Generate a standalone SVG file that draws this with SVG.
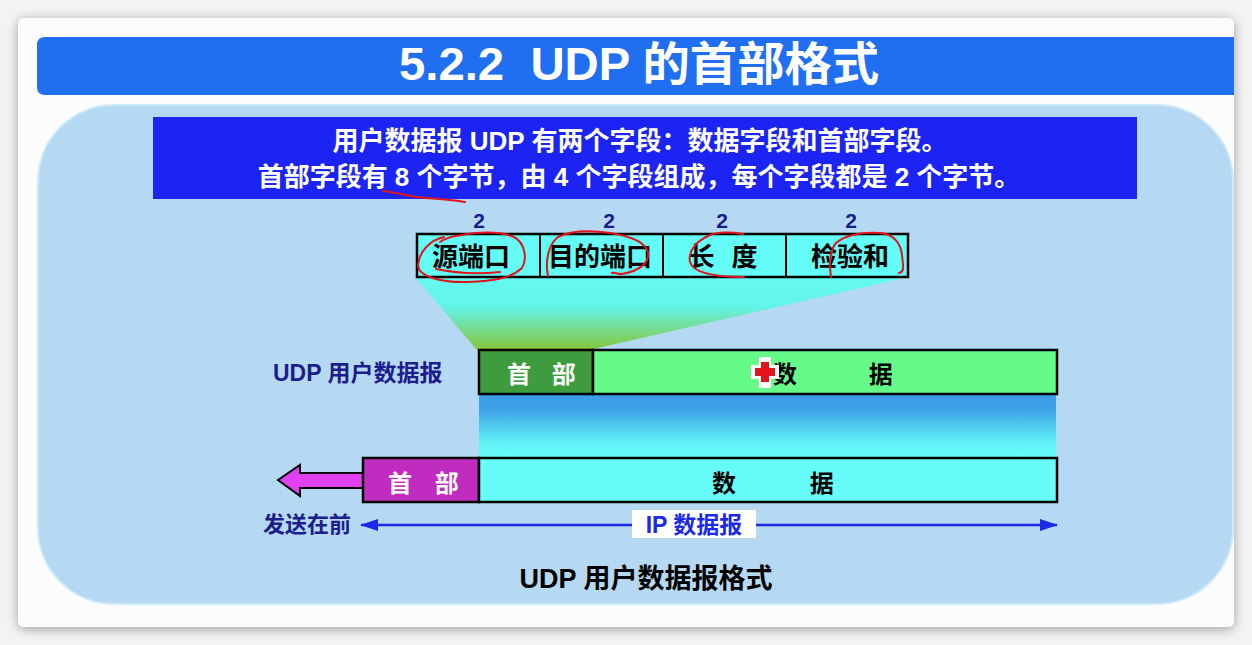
<svg xmlns="http://www.w3.org/2000/svg" width="1252" height="645" viewBox="0 0 1252 645">
  <style>
    .cjk { font-family: "Liberation Sans", "Noto Sans CJK SC", sans-serif; font-weight: bold; }
    .box { stroke: #000; stroke-width: 2.5; }
    .navy { fill: #1c1c8c; }
    .ink { stroke: #e0141a; stroke-width: 2; fill: none; stroke-linecap: round; stroke-linejoin: round; }
  </style>
  <defs>
    <filter id="cardShadow" x="-5%" y="-5%" width="110%" height="110%">
      <feGaussianBlur in="SourceAlpha" stdDeviation="6"/>
      <feOffset dx="0" dy="2"/>
      <feComponentTransfer><feFuncA type="linear" slope="0.35"/></feComponentTransfer>
      <feMerge><feMergeNode/><feMergeNode in="SourceGraphic"/></feMerge>
    </filter>
    <linearGradient id="funnelGrad" x1="0" y1="0" x2="0" y2="1">
      <stop offset="0" stop-color="#64fbf3"/>
      <stop offset="0.4" stop-color="#63f3ea"/>
      <stop offset="1" stop-color="#86c63a"/>
    </linearGradient>
    <linearGradient id="bandGrad" x1="0" y1="0" x2="0" y2="1">
      <stop offset="0" stop-color="#3b9ce6"/>
      <stop offset="0.25" stop-color="#3fa3e8"/>
      <stop offset="0.75" stop-color="#60f2f6"/>
      <stop offset="1" stop-color="#66fcf8"/>
    </linearGradient>
    <marker id="blueHead" viewBox="0 0 18 12" refX="17" refY="6" markerWidth="18" markerHeight="12" markerUnits="userSpaceOnUse" orient="auto-start-reverse">
      <path d="M0,0 L18,6 L0,12 Z" fill="#1a2ae6"/>
    </marker>
  </defs>

  <!-- page backdrop and slide card -->
  <rect width="1252" height="645" fill="#f3f3f4"/>
  <rect x="18" y="18" width="1216" height="609" rx="6" fill="#fcfcfd" filter="url(#cardShadow)"/>

  <!-- title bar -->
  <g id="title">
    <path d="M45,37 H1234 V95 H45 Q37,95 37,87 V45 Q37,37 45,37 Z" fill="#1f6ff0"/>
    <text x="639" y="80" text-anchor="middle" class="cjk" font-size="46" fill="#fff" style="white-space:pre" textLength="480" lengthAdjust="spacingAndGlyphs">5.2.2  UDP 的首部格式</text>
  </g>

  <!-- light panel -->
  <rect x="38" y="105" width="1195" height="499" rx="76" fill="#b5d9f2" stroke="#cdeafa" stroke-width="2"/>

  <!-- summary banner -->
  <g id="banner">
    <rect x="153" y="117" width="984" height="82" fill="#1b24f2"/>
    <text x="640" y="150" text-anchor="middle" class="cjk" font-size="26" fill="#fff">用户数据报 UDP 有两个字段：数据字段和首部字段。</text>
    <text x="639" y="186" text-anchor="middle" class="cjk" font-size="26" fill="#fff">首部字段有 8 个字节，由 4 个字段组成，每个字段都是 2 个字节。</text>
  </g>

  <!-- connectors: funnel, band, arrows -->
  <g id="connectors">
    <polygon points="415,277 908,277 589,350 477,350" fill="url(#funnelGrad)"/>
    <rect x="479" y="394" width="577" height="64" fill="url(#bandGrad)"/>
    <polygon points="278,480 300,465 300,473 363,473 363,488 300,488 300,496" fill="#e040f0" stroke="#000" stroke-width="2" stroke-linejoin="miter"/>
    <line x1="361" y1="525" x2="1057" y2="525" stroke="#1a2ae6" stroke-width="2.5" marker-start="url(#blueHead)" marker-end="url(#blueHead)"/>
  </g>

  <!-- header field layout -->
  <g id="header-fields">
    <g class="cjk navy" font-size="21" text-anchor="middle">
      <text x="479" y="228">2</text>
      <text x="609" y="228">2</text>
      <text x="722" y="228">2</text>
      <text x="851" y="228">2</text>
    </g>
    <rect x="417" y="234" width="491" height="43" fill="#64fcf6" class="box"/>
    <line x1="540" y1="234" x2="540" y2="277" stroke="#000" stroke-width="2"/>
    <line x1="663" y1="234" x2="663" y2="277" stroke="#000" stroke-width="2"/>
    <line x1="786" y1="234" x2="786" y2="277" stroke="#000" stroke-width="2"/>
    <g class="cjk" font-size="26" fill="#000" text-anchor="middle">
      <text x="471" y="266">源端口</text>
      <text x="600" y="266">目的端口</text>
      <text x="723" y="266" word-spacing="10">长 度</text>
      <text x="850" y="266">检验和</text>
    </g>
  </g>

  <!-- UDP datagram -->
  <g id="udp-datagram">
    <text x="273" y="381" class="cjk navy" font-size="23">UDP 用户数据报</text>
    <rect x="479" y="350" width="114" height="44" fill="#3e9c3e" class="box"/>
    <rect x="593" y="350" width="464" height="44" fill="#66fa88" class="box"/>
    <text x="507" y="383" class="cjk" font-size="24" fill="#fff" word-spacing="14">首 部</text>
    <text x="773" y="383" class="cjk" font-size="24" fill="#000" word-spacing="65">数 据</text>
  </g>

  <!-- IP datagram -->
  <g id="ip-datagram">
    <rect x="363" y="458" width="116" height="44" fill="#c02cc0" class="box"/>
    <rect x="479" y="458" width="578" height="44" fill="#66fcf8" class="box"/>
    <text x="388" y="492" class="cjk" font-size="24" fill="#fff" word-spacing="16">首 部</text>
    <text x="712" y="492" class="cjk" font-size="24" fill="#000" word-spacing="67">数 据</text>
  </g>

  <!-- arrow labels -->
  <g id="send-first">
    <text x="263" y="532" class="cjk navy" font-size="22">发送在前</text>
  </g>
  <g id="ip-label">
    <rect x="632" y="510" width="124" height="28" fill="#fff"/>
    <text x="694" y="533" text-anchor="middle" class="cjk" font-size="23" fill="#1a2ae6">IP 数据报</text>
  </g>

  <!-- caption -->
  <g id="caption">
    <text x="646" y="588" text-anchor="middle" class="cjk" font-size="27" fill="#000">UDP 用户数据报格式</text>
  </g>

  <!-- red pen marks -->
  <g id="pen-marks">
    <path class="ink" d="M383,191 C400,193 412,197 425,198 C440,199 452,200 465,202"/>
    <path class="ink" d="M444,237 C430,240 419,252 418,265 C418,276 440,283 468,282 C492,281 510,279 522,268 C528,258 524,242 514,237 C500,231 480,232 462,235 C452,236 446,238 440,242"/>
    <path class="ink" d="M436,269 C450,272 470,275 500,272"/>
    <path class="ink" d="M548,276 C545,262 548,245 558,237 C570,231 590,230 610,233 C630,236 645,242 648,252 C650,262 640,271 622,274 C617,274 614,272 612,273"/>
    <path class="ink" d="M743,234 C730,232 716,232 708,236 C695,242 688,252 690,262 C693,272 712,277 744,277"/>
    <path class="ink" d="M831,277 C829,265 830,250 836,243 C846,235 862,232 880,233 C895,234 901,245 902,255 C903,265 905,272 899,273"/>
  </g>

  <!-- pointer marker -->
  <g id="pointer">
    <path d="M759,357 h12 v8 h8 v14 h-8 v9 h-12 v-9 h-8 v-14 h8 Z" fill="#fff"/>
    <path d="M761,362 h8 v6 h6 v8 h-6 v6 h-8 v-6 h-6 v-8 h6 Z" fill="#e0141a"/>
  </g>
</svg>
